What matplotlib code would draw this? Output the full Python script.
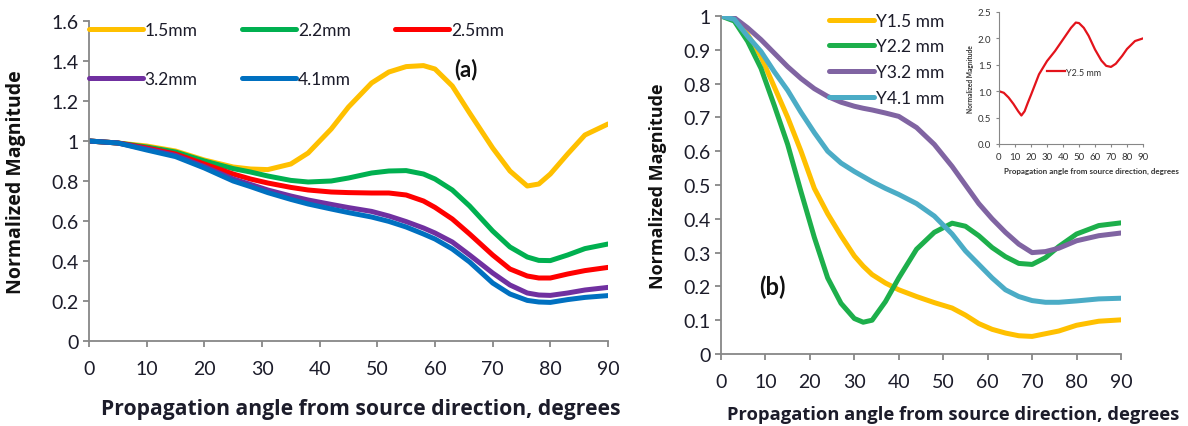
import matplotlib
matplotlib.use("Agg")
import matplotlib.pyplot as plt

plt.rcParams['font.family'] = ['Lato', 'DejaVu Sans']

# ---------------- data: panel (a) ----------------
angles_a = [0, 5, 10, 15, 20, 25, 28, 31, 35, 38, 42, 45, 49, 52, 55, 58, 60, 63, 66, 70, 73, 76, 78, 80, 83, 86, 90]
a_15 = [1.0, 0.99, 0.975, 0.95, 0.905, 0.87, 0.86, 0.857, 0.885, 0.94, 1.06, 1.17, 1.29, 1.345, 1.372, 1.377, 1.36, 1.275, 1.14, 0.965, 0.85, 0.775, 0.785, 0.835, 0.935, 1.03, 1.085]
a_22 = [1.0, 0.99, 0.97, 0.945, 0.90, 0.862, 0.845, 0.825, 0.803, 0.795, 0.80, 0.815, 0.84, 0.85, 0.852, 0.835, 0.81, 0.755, 0.675, 0.55, 0.47, 0.42, 0.403, 0.402, 0.43, 0.462, 0.485]
a_25 = [1.0, 0.99, 0.965, 0.935, 0.885, 0.835, 0.81, 0.79, 0.768, 0.755, 0.745, 0.742, 0.74, 0.74, 0.73, 0.70, 0.668, 0.61, 0.535, 0.43, 0.36, 0.325, 0.315, 0.315, 0.335, 0.352, 0.368]
a_32 = [1.0, 0.99, 0.96, 0.928, 0.872, 0.81, 0.783, 0.755, 0.725, 0.705, 0.683, 0.667, 0.648, 0.625, 0.597, 0.565, 0.54, 0.495, 0.43, 0.34, 0.28, 0.24, 0.23, 0.228, 0.24, 0.255, 0.268]
a_41 = [1.0, 0.99, 0.955, 0.922, 0.865, 0.80, 0.772, 0.742, 0.708, 0.685, 0.66, 0.642, 0.62, 0.598, 0.57, 0.535, 0.51, 0.46, 0.395, 0.29, 0.235, 0.203, 0.195, 0.193, 0.207, 0.218, 0.227]
labels_a = ['1.5mm', '2.2mm', '2.5mm', '3.2mm', '4.1mm']
colors_a = ['#FFC000', '#00B050', '#FF0000', '#7030A0', '#0070C0']

# ---------------- data: panel (b) ----------------
angles_b = [0, 3, 6, 9, 12, 15, 18, 21, 24, 27, 30, 32, 34, 37, 40, 44, 48, 52, 55, 58, 61, 64, 67, 70, 73, 76, 80, 85, 90]
b_15 = [1.0, 0.99, 0.945, 0.88, 0.79, 0.70, 0.60, 0.49, 0.415, 0.35, 0.29, 0.26, 0.235, 0.21, 0.19, 0.17, 0.152, 0.136, 0.115, 0.09, 0.073, 0.062, 0.054, 0.052, 0.06, 0.068, 0.085, 0.097, 0.101]
b_22 = [1.0, 0.985, 0.925, 0.845, 0.735, 0.62, 0.48, 0.345, 0.225, 0.15, 0.105, 0.094, 0.10, 0.155, 0.225, 0.31, 0.36, 0.387, 0.378, 0.35, 0.315, 0.288, 0.268, 0.265, 0.285, 0.318, 0.355, 0.38, 0.388]
b_32 = [1.0, 0.995, 0.965, 0.93, 0.89, 0.85, 0.815, 0.785, 0.762, 0.745, 0.733, 0.727, 0.722, 0.713, 0.703, 0.67, 0.62, 0.555, 0.50, 0.445, 0.40, 0.36, 0.325, 0.30, 0.303, 0.313, 0.335, 0.35, 0.358]
b_41 = [1.0, 0.99, 0.94, 0.895, 0.835, 0.78, 0.715, 0.655, 0.60, 0.565, 0.54, 0.525, 0.51, 0.49, 0.472, 0.445, 0.408, 0.355, 0.305, 0.265, 0.225, 0.19, 0.17, 0.158, 0.153, 0.153, 0.157, 0.163, 0.165]
labels_b = ['Y1.5 mm', 'Y2.2 mm', 'Y3.2 mm', 'Y4.1 mm']
colors_b = ['#FFC000', '#1DAF4B', '#8064A2', '#4BACC6']

# ---------------- data: inset ----------------
angles_c = [0, 3, 6, 9, 12, 14, 16, 18, 20, 25, 30, 35, 40, 45, 48, 50, 53, 56, 60, 64, 67, 70, 73, 77, 80, 85, 90]
c_25 = [1.0, 0.97, 0.88, 0.76, 0.62, 0.54, 0.62, 0.78, 0.93, 1.32, 1.57, 1.76, 1.98, 2.2, 2.3, 2.29, 2.2, 2.05, 1.79, 1.58, 1.48, 1.46, 1.52, 1.67, 1.8, 1.95, 2.0]
label_c = 'Y2.5 mm'

xticks = list(range(0, 91, 10))
yticks_a = [0, 0.2, 0.4, 0.6, 0.8, 1.0, 1.2, 1.4, 1.6]
yticklabels_a = ['0', '0.2', '0.4', '0.6', '0.8', '1', '1.2', '1.4', '1.6']
yticks_b = [0, 0.1, 0.2, 0.3, 0.4, 0.5, 0.6, 0.7, 0.8, 0.9, 1.0]
yticklabels_b = ['0', '0.1', '0.2', '0.3', '0.4', '0.5', '0.6', '0.7', '0.8', '0.9', '1']
yticks_c = [0, 0.5, 1.0, 1.5, 2.0, 2.5]
yticklabels_c = ['0.0', '0.5', '1.0', '1.5', '2.0', '2.5']

xlabel = 'Propagation angle from source direction, degrees'
ylabel = 'Normalized Magnitude'

W, H = 1188, 427
fig = plt.figure(figsize=(W / 100, H / 100), dpi=100)

GRAY = '#878787'
TXT = '#1c1c2a'
LABFONT = ['Open Sans', 'DejaVu Sans']


def style(ax, lw=1.3, tl=4, fs=13):
    for s in ['top', 'right']:
        ax.spines[s].set_visible(False)
    for s in ['left', 'bottom']:
        ax.spines[s].set_color(GRAY)
        ax.spines[s].set_linewidth(lw)
    ax.tick_params(direction='out', color=GRAY, width=lw, length=tl,
                   labelsize=fs, labelcolor=TXT)


# ---------------- panel (a) ----------------
ax1 = fig.add_axes([89 / W, 1 - 342 / H, (608 - 89) / W, (342 - 22) / H])
series_a = [a_15, a_22, a_25, a_32, a_41]
handles = []
for ys, c, lab in zip(series_a, colors_a, labels_a):
    h, = ax1.plot(angles_a, ys, color=c, lw=3.6, label=lab, solid_joinstyle='round',
                  solid_capstyle='round')
    handles.append(h)
ax1.set_xlim(0, 90)
ax1.set_ylim(0, 1.6)
ax1.set_xticks(xticks)
ax1.set_yticks(yticks_a)
ax1.set_yticklabels(yticklabels_a)
style(ax1, fs=14)
ax1.tick_params(axis='x', pad=10)
ax1.set_xlabel(xlabel, fontsize=15.2, fontweight='bold', color=TXT, family=LABFONT,
               va='center')
ax1.xaxis.set_label_coords(0.524, -0.21)
ax1.set_ylabel(ylabel, fontsize=14, fontweight='bold', color='#111111', family=LABFONT,
               va='center')
ax1.yaxis.set_label_coords(-0.14, 0.5)
order = [0, 3, 1, 4, 2]
leg1 = ax1.legend([handles[i] for i in order], [labels_a[i] for i in order],
                  ncol=3, loc='upper left', bbox_to_anchor=(0.0, 0.997), frameon=False,
                  fontsize=12.5, handlelength=3.1, handletextpad=0.1,
                  columnspacing=2.57, labelspacing=1.9, borderpad=0, borderaxespad=0)
for t in leg1.get_texts():
    t.set_color(TXT)
ax1.text(65.3, 1.36, '(a)', fontsize=16, fontweight='bold', ha='center', va='center',
         color='#111111')

# ---------------- panel (b) ----------------
ax2 = fig.add_axes([721 / W, 1 - 355 / H, (1121 - 721) / W, (355 - 17) / H])
series_b = [b_15, b_22, b_32, b_41]
for ys, c, lab in zip(series_b, colors_b, labels_b):
    ax2.plot(angles_b, ys, color=c, lw=3.6, label=lab, solid_joinstyle='round',
             solid_capstyle='round')
ax2.set_xlim(0, 90)
ax2.set_ylim(0, 1.0)
ax2.set_xticks(xticks)
ax2.set_yticks(yticks_b)
ax2.set_yticklabels(yticklabels_b)
style(ax2, fs=14)
ax2.tick_params(axis='x', pad=10)
ax2.set_xlabel(xlabel, fontsize=13.2, fontweight='bold', color=TXT, family=LABFONT,
               va='center')
ax2.xaxis.set_label_coords(0.58, -0.178)
ax2.set_ylabel(ylabel, fontsize=13, fontweight='bold', color='#111111', family=LABFONT,
               va='center')
ax2.yaxis.set_label_coords(-0.157, 0.5)
leg2 = ax2.legend(loc='upper left', bbox_to_anchor=(0.27, 1.01), frameon=False,
                  fontsize=12.5, handlelength=2.6, handletextpad=0.1,
                  labelspacing=0.56, borderpad=0, borderaxespad=0)
for t in leg2.get_texts():
    t.set_color(TXT)
ax2.text(11.5, 0.2, '(b)', fontsize=17, fontweight='bold', ha='center', va='center',
         color='#111111')

# ---------------- inset ----------------
ax3 = fig.add_axes([999 / W, 1 - 145 / H, (1143 - 999) / W, (145 - 13) / H])
ax3.patch.set_facecolor('white')
ax3.plot(angles_c, c_25, color='#E3131B', lw=1.6, label=label_c,
         solid_joinstyle='round')
ax3.set_xlim(0, 90)
ax3.set_ylim(0, 2.5)
ax3.set_xticks(xticks)
ax3.set_yticks(yticks_c)
ax3.set_yticklabels(yticklabels_c)
style(ax3, lw=0.8, tl=2.5, fs=7)
ax3.tick_params(labelcolor='#333333', pad=3)
ax3.set_xlabel(xlabel, fontsize=5.8, fontweight='bold', color='#333333')
ax3.xaxis.set_label_coords(0.64, -0.17)
ax3.set_ylabel(ylabel, fontsize=4.8, fontweight='bold', color='#333333', labelpad=3)
leg3 = ax3.legend(loc='center left', bbox_to_anchor=(0.33, 0.545), frameon=False,
                  fontsize=6.5, handlelength=2.0, handletextpad=0.15,
                  borderpad=0, borderaxespad=0)
for t in leg3.get_texts():
    t.set_color('#333333')

fig.savefig('out.png', dpi=100, facecolor='white')
